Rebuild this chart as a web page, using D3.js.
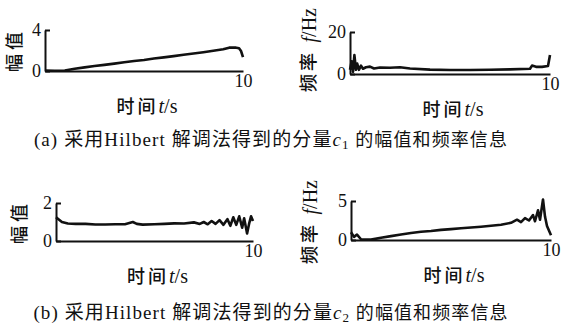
<!DOCTYPE html>
<html lang="zh">
<head>
<meta charset="UTF-8">
<title>Hilbert 解调 c1 c2</title>
<script src="https://d3js.org/d3.v7.min.js"></script>
<style>
  body { margin: 0; padding: 0; background: #fff; }
  svg text { font-family: "Liberation Serif", "Noto Sans CJK SC", serif; fill: #111; }
  .curve { fill: none; stroke: #111; stroke-width: 2.6; stroke-linejoin: round; }
  .axis path, .axis line { stroke: #111; stroke-width: 2; }
  .axis .domain { stroke-width: 2; }
</style>
</head>
<body>
<svg id="chart" width="564" height="334"></svg>
<script>
// ---- data ----
// (a) component c1: amplitude
const ampC1T = [0, 0.5, 1, 1.5, 2, 2.5, 3, 3.5, 4, 4.5, 5, 5.5, 6, 6.5, 7, 7.5, 8, 8.5, 9, 9.3, 9.6, 9.8, 9.9, 10];
const ampC1V = [0.05, 0.02, 0.05, 0.22, 0.35, 0.48, 0.6, 0.72, 0.85, 0.98, 1.08, 1.22, 1.33, 1.45, 1.58, 1.7, 1.83, 1.97, 2.12, 2.28, 2.3, 2.22, 1.95, 1.35];
// (a) component c1: frequency
const frqC1T = [0, 0.08, 0.15, 0.22, 0.3, 0.36, 0.45, 0.55, 0.65, 0.8, 1.0, 1.2, 1.5, 2, 2.5, 3, 4, 5, 6, 7, 8, 9, 9.1, 9.3, 9.6, 9.9, 10];
const frqC1V = [2, 6, 1, 9, 2, 5, 2, 4, 2.5, 3.2, 3.5, 2.6, 3.1, 3, 3.2, 2.6, 2.1, 1.9, 1.9, 2, 2.2, 2.5, 4, 3.4, 3.4, 3.8, 9];
// (b) component c2: amplitude
const ampC2T = [0, 0.3, 0.6, 1, 1.5, 2, 2.5, 3, 3.5, 3.9, 4.1, 4.4, 5, 5.5, 6, 6.5, 7, 7.3, 7.5, 7.7, 7.9, 8.1, 8.3, 8.5, 8.7, 8.85, 9, 9.15, 9.3, 9.45, 9.55, 9.7, 9.8, 9.9, 10];
const ampC2V = [1.25, 1.0, 0.92, 0.9, 0.9, 0.87, 0.87, 0.88, 0.88, 1.0, 0.9, 0.86, 0.88, 0.9, 0.93, 0.92, 0.98, 0.9, 1.0, 0.88, 1.05, 0.9, 1.1, 0.85, 1.15, 0.8, 1.25, 0.85, 1.3, 0.7, 1.2, 0.4, 0.9, 1.3, 1.05];
// (b) component c2: frequency
const frqC2T = [0, 0.15, 0.3, 0.5, 1, 1.5, 2, 2.5, 3, 3.5, 4, 4.5, 5, 5.5, 6, 6.5, 7, 7.5, 8, 8.3, 8.5, 8.7, 8.9, 9.1, 9.2, 9.35, 9.45, 9.6, 9.7, 9.8, 10];
const frqC2V = [1.0, 0.4, 0.7, 0.1, 0.05, 0.3, 0.5, 0.7, 0.9, 1.05, 1.15, 1.3, 1.4, 1.5, 1.6, 1.7, 1.82, 1.95, 2.2, 2.6, 2.3, 2.8, 2.5, 3.2, 2.4, 3.8, 2.6, 5.2, 3.0, 1.8, 0.6];

// tick labels
const ampC1Ticks = [0, 4];
const frqC1Ticks = [0, 20];
const ampC2Ticks = [0, 2];
const frqC2Ticks = [0, 5];
const timeTicks = [10];

const captions = ["(a) 采用Hilbert 解调法得到的分量", "(b) 采用Hilbert 解调法得到的分量"];

// ---- drawing ----
const svg = d3.select("#chart");

function panel(opt) {
  const x = d3.scaleLinear().domain([0, 10]).range([opt.x0, opt.x1]);
  const y = d3.scaleLinear().domain([0, opt.ticks[1]]).range([opt.yb, opt.yt]);

  // y axis with inward tick at the top
  svg.append("g")
    .attr("class", "axis")
    .attr("transform", `translate(${opt.x0},0)`)
    .call(d3.axisLeft(y).tickValues(opt.ticks).tickFormat(d3.format("d"))
      .tickSizeInner(-5).tickSizeOuter(0).tickPadding(4))
    .call(g => g.selectAll("text").style("font-size", "18px").attr("dy", "0.3em"));

  // x axis baseline
  svg.append("g")
    .attr("class", "axis")
    .attr("transform", `translate(0,${opt.yb})`)
    .call(d3.axisBottom(x).tickValues(timeTicks).tickSize(0).tickPadding(3))
    .call(g => g.selectAll("text").style("font-size", "18px"));

  const pts = opt.t.map((t, i) => [t, opt.v[i]]);
  svg.append("path")
    .datum(pts)
    .attr("class", "curve")
    .attr("d", d3.line().x(d => x(d[0])).y(d => y(d[1])));

  // y label (rotated)
  const yl = svg.append("text")
    .attr("transform", `translate(${opt.ylx},${opt.yly}) rotate(-90)`)
    .attr("text-anchor", "middle")
    .attr("dominant-baseline", "central")
    .style("font-size", "18px")
    .style("font-weight", "500");
  if (opt.freq) {
    yl.append("tspan").attr("letter-spacing", "3px").text("频率 ");
    yl.append("tspan").style("font-style", "italic").style("font-size", "20px").text("f");
    yl.append("tspan").style("font-size", "20px").text("/Hz");
  } else {
    yl.append("tspan").attr("letter-spacing", "4px").text("幅值");
  }

  // x label
  const xl = svg.append("text")
    .attr("x", (opt.x0 + opt.x1) / 2 + 3)
    .attr("y", opt.yb + 42)
    .attr("text-anchor", "middle")
    .style("font-size", "18px");
  xl.append("tspan").style("font-weight", "500").attr("letter-spacing", "3px").text("时间");
  xl.append("tspan").style("font-style", "italic").style("font-size", "20px").text("t");
  xl.append("tspan").style("font-size", "20px").text("/s");
}

panel({ t: ampC1T, v: ampC1V, ticks: ampC1Ticks, x0: 45, x1: 243, yb: 71, yt: 30, ylx: 15, yly: 50 });
panel({ t: frqC1T, v: frqC1V, ticks: frqC1Ticks, x0: 350, x1: 550, yb: 74, yt: 32, ylx: 309, yly: 50, freq: true });
panel({ t: ampC2T, v: ampC2V, ticks: ampC2Ticks, x0: 56, x1: 253, yb: 241, yt: 203, ylx: 20, yly: 222 });
panel({ t: frqC2T, v: frqC2V, ticks: frqC2Ticks, x0: 351, x1: 551, yb: 240, yt: 201, ylx: 310, yly: 222, freq: true });

// captions
[[140, 1], [313, 2]].forEach(([yy, sub], i) => {
  const c = svg.append("text")
    .attr("x", 271)
    .attr("y", yy + 6)
    .attr("text-anchor", "middle")
    .attr("letter-spacing", "1.1px")
    .style("font-size", "18px");
  c.append("tspan").style("font-size", "19px").text(captions[i]);
  c.append("tspan").style("font-style", "italic").style("font-size", "19px").text("c");
  c.append("tspan").attr("dy", "3").style("font-size", "13px").text(sub);
  c.append("tspan").attr("dy", "-3").text(" 的幅值和频率信息");
});
</script>
</body>
</html>
